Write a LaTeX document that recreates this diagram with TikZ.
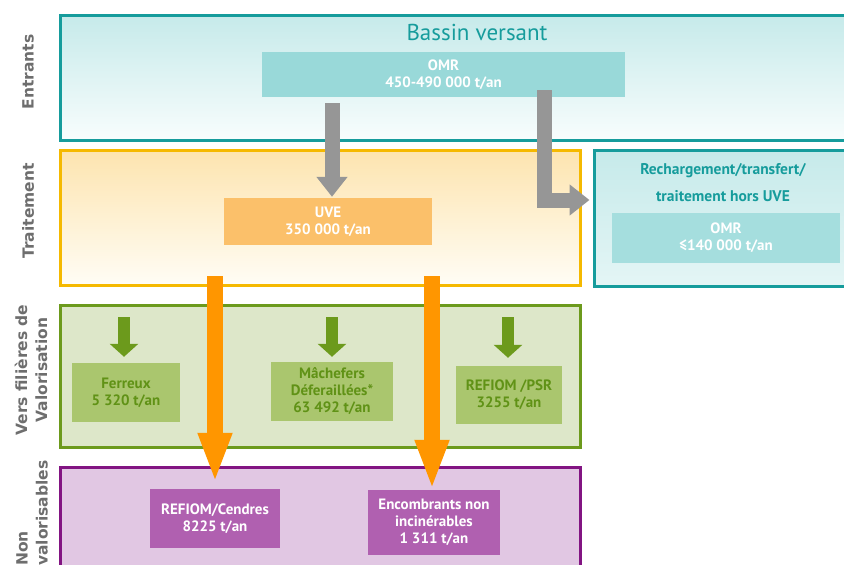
\documentclass[tikz,border=0pt]{standalone}
\usepackage{fontspec}
\setmainfont{PT Sans}
\newfontfamily\sidefont{DejaVu Sans}
\usetikzlibrary{arrows.meta}
\definecolor{bv_teal}{RGB}{22, 156, 156}
\definecolor{bv_tealtop}{RGB}{198, 234, 234}
\definecolor{bv_tealbot}{RGB}{248, 253, 253}
\definecolor{bv_omr}{RGB}{153, 217, 217}
\definecolor{bv_omrb}{RGB}{165, 222, 222}
\definecolor{tr_gold}{RGB}{245, 185, 0}
\definecolor{tr_top}{RGB}{253, 228, 175}
\definecolor{tr_bot}{RGB}{255, 253, 245}
\definecolor{tr_uve}{RGB}{251, 192, 106}
\definecolor{va_green}{RGB}{108, 154, 28}
\definecolor{va_fill}{RGB}{221, 231, 201}
\definecolor{va_box}{RGB}{170, 198, 110}
\definecolor{va_text}{RGB}{96, 146, 22}
\definecolor{nv_purple}{RGB}{130, 20, 130}
\definecolor{nv_fill}{RGB}{225, 199, 227}
\definecolor{nv_box}{RGB}{176, 96, 176}
\definecolor{ar_gray}{RGB}{150, 150, 150}
\definecolor{ar_orange}{RGB}{255, 150, 0}
\definecolor{side_gray}{RGB}{110, 110, 110}
\tikzstyle{frame}=[rectangle,line width=3pt,inner sep=0pt]
\tikzstyle{box}=[rectangle,inner sep=0pt,align=center,text=white,
  font=\bfseries\fontsize{15}{17}\selectfont]
\tikzstyle{gbox}=[box,fill=va_box,text=va_text]
\tikzstyle{side}=[rotate=90,inner sep=0pt,text=side_gray,
  font=\sidefont\bfseries\fontsize{15.5}{20}\selectfont]
\tikzstyle{grayarrow}=[draw=ar_gray,line width=15pt,-{Triangle[length=20pt,width=30pt]}]
\tikzstyle{orangearrow}=[draw=ar_orange,line width=16pt,-{Triangle[length=50pt,width=31pt]}]
\tikzstyle{greenarrow}=[draw=va_green,line width=12pt,-{Triangle[length=13pt,width=28pt]}]

\begin{document}
\begin{tikzpicture}[x=1pt,y=-1pt]
        \useasboundingbox (0,0) rectangle (844,565);
        % bandes
        \node [style=frame,draw=bv_teal,top color=bv_tealtop,bottom color=bv_tealbot,
          minimum width=786pt,minimum height=125pt] (entr) at (453,77.5) {};
        \node [style=frame,draw=tr_gold,top color=tr_top,bottom color=tr_bot,
          minimum width=520pt,minimum height=135pt] (trait) at (320,217.5) {};
        \node [style=frame,draw=bv_teal,top color=bv_tealtop,bottom color=bv_tealbot!60!bv_tealtop,
          minimum width=252pt,minimum height=136pt] (hors) at (720,218) {};
        \node [style=frame,draw=va_green,fill=va_fill,
          minimum width=520pt,minimum height=142pt] (valo) at (320,376) {};
        \node [style=frame,draw=nv_purple,fill=nv_fill,
          minimum width=520pt,minimum height=110pt] (nonvalo) at (320,522) {};
        % titres a gauche
        \node [style=side] (lentr) at (28,72) {Entrants};
        \node [style=side] (ltrait) at (28,211) {Traitement};
        \node [style=side,align=center] (lvalo) at (31,370) {Vers filières de\\Valorisation};
        \node [style=side,align=left,anchor=west] (lnon) at (32,566) {Non\\valorisables};
        % entrants
        \node [text=bv_teal,font=\fontsize{23}{27}\selectfont] (bassin) at (477,32) {Bassin versant};
        \node [style=box,fill=bv_omr,minimum width=363pt,minimum height=45pt] (omr) at (443.5,74.5)
          {OMR\\450-490 000 t/an};
        % traitement
        \node [style=box,fill=tr_uve,minimum width=208pt,minimum height=47pt] (uve) at (328,221.5)
          {UVE\\350 000 t/an};
        \node [text=bv_teal,align=center,font=\bfseries\fontsize{15.5}{27}\selectfont] (rech) at (723,183)
          {Rechargement/transfert/\\traitement hors UVE};
        \node [style=box,fill=bv_omrb,minimum width=228pt,minimum height=50pt] (omr2) at (726,238)
          {OMR\\≤140 000 t/an};
        % valorisation
        \node [style=gbox,minimum width=108pt,minimum height=59pt] (ferreux) at (126,392.5)
          {Ferreux\\5 320 t/an};
        \node [style=gbox,minimum width=122pt,minimum height=59pt] (mach) at (332,391.5)
          {Mâchefers\\Déferaillées*\\63 492 t/an};
        \node [style=gbox,minimum width=106pt,minimum height=58pt] (psr) at (509,395)
          {REFIOM /PSR\\3255 t/an};
        % non valorisables
        \node [style=box,fill=nv_box,minimum width=130pt,minimum height=59pt] (cendres) at (215,518.5)
          {REFIOM/Cendres\\8225 t/an};
        \node [style=box,fill=nv_box,minimum width=132pt,minimum height=65pt] (encomb) at (434,522.5)
          {Encombrants non\\incinérables\\1 311 t/an};
        % fleches
        \coordinate (coude) at (544,200);
        \coordinate (o1) at (215,276);
        \coordinate (o2) at (432,276);
        \coordinate (g1) at (124,317);
        \coordinate (g2) at (332,317);
        \coordinate (g3) at (508,317);
        \draw [style=grayarrow,shorten <=6pt,shorten >=1pt]
          ([xshift=4pt]uve.north |- omr.south) to ([xshift=4pt]uve.north);
        \draw [style=grayarrow,shorten >=3pt]
          ([yshift=7pt]omr.south -| coude) -- (coude) -- (coude -| hors.west);
        \draw [style=greenarrow,shorten >=6pt] (g1) to (g1 |- ferreux.north);
        \draw [style=greenarrow,shorten >=5pt] (g2) to (g2 |- mach.north);
        \draw [style=greenarrow,shorten >=8pt] (g3) to (g3 |- psr.north);
        \draw [style=orangearrow,shorten >=6pt] (o1) to (o1 |- cendres.north);
        \draw [style=orangearrow] (o2) to (o2 |- encomb.north);
    \end{tikzpicture}
\end{document}
